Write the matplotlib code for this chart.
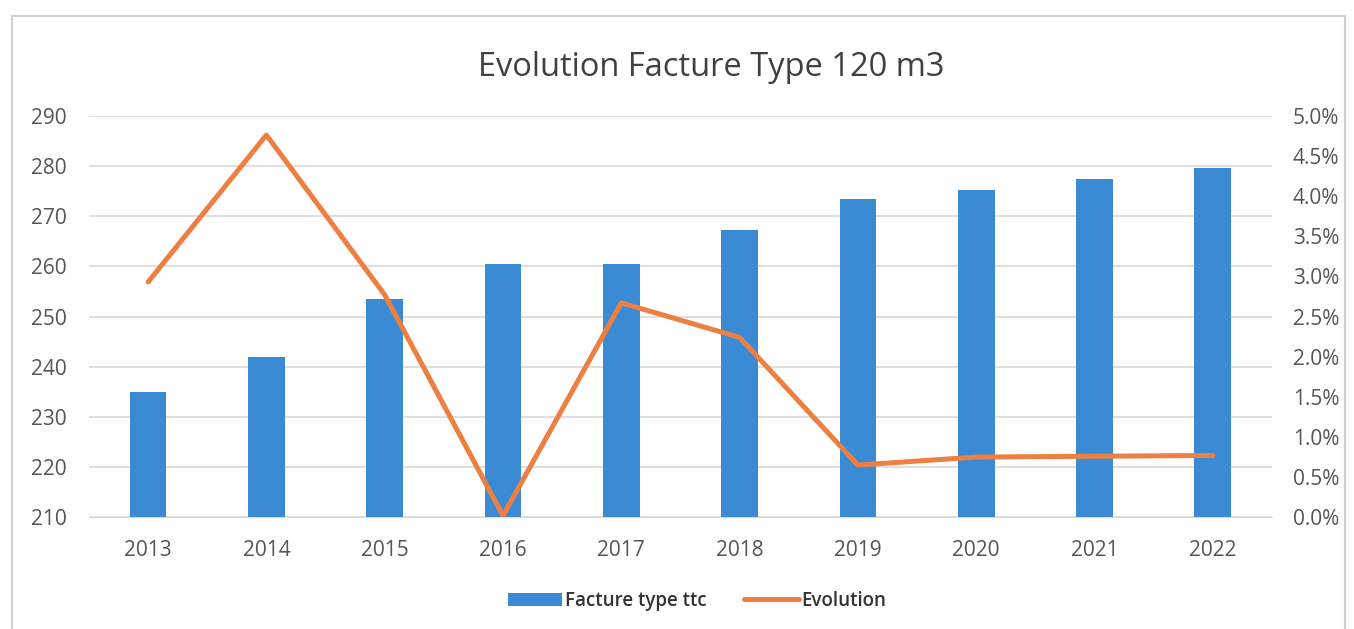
import numpy as np
import matplotlib.pyplot as plt
from matplotlib.patches import Rectangle
from matplotlib.ticker import FuncFormatter

plt.rcParams['font.family'] = ['Open Sans', 'DejaVu Sans']

years = ['2013', '2014', '2015', '2016', '2017', '2018', '2019', '2020', '2021', '2022']
facture = [235.0, 242.0, 253.5, 260.5, 260.5, 267.3, 273.5, 275.3, 277.4, 279.5]
evolution = [0.0293, 0.0476, 0.0277, 0.0002, 0.0267, 0.0224, 0.0065, 0.0075, 0.0076, 0.0077]

blue = '#3a8bd4'
orange = '#ee7f42'
grey = '#555555'

fig = plt.figure(figsize=(13.54, 6.29), dpi=100)
fig.patches.append(Rectangle((0.009, -0.01), 0.984, 0.985, transform=fig.transFigure,
                             fill=False, edgecolor='#d0d0d0', linewidth=1.5))

ax = fig.add_axes([0.0657, 0.1776, 0.8737, 0.6384])
x = np.arange(len(years))
bars = ax.bar(x, facture, width=0.31, color=blue, zorder=2, label='Facture type ttc')
ax.set_ylim(210, 290)
ax.set_yticks(np.arange(210, 291, 10))
ax.set_xlim(-0.5, len(years) - 0.5)
ax.set_xticks(x)
ax.set_xticklabels(years)
ax.grid(axis='y', color='#d9d9d9', linewidth=1.2, zorder=0)
for s in ax.spines.values():
    s.set_visible(False)
ax.spines['bottom'].set_visible(True)
ax.spines['bottom'].set_color('#d9d9d9')
ax.tick_params(length=0, labelsize=15, colors=grey, pad=16)
ax.tick_params(axis='x', pad=16)

ax2 = ax.twinx()
line, = ax2.plot(x, evolution, color=orange, linewidth=3.6, zorder=3,
                 solid_capstyle='round', label='Evolution')
ax2.set_ylim(0, 0.05)
ax2.set_yticks(np.arange(0, 0.0501, 0.005))
ax2.yaxis.set_major_formatter(FuncFormatter(lambda v, p: f'{v*100:.1f}%'))
for s in ax2.spines.values():
    s.set_visible(False)
ax2.tick_params(length=0, labelsize=15, colors=grey, pad=15)

fig.text(0.525, 0.893, 'Evolution Facture Type 120 m3', ha='center', va='center',
         fontsize=23.5, color='#404040')

fig.legend([bars, line], ['Facture type ttc', 'Evolution'], loc='center',
           bbox_to_anchor=(0.515, 0.045), ncol=2, frameon=False,
           handlelength=2.9, handletextpad=0.15, columnspacing=2,
           prop={'size': 13.5, 'weight': 'semibold'}, labelcolor='#333333')

fig.savefig('out.png', dpi=100)
